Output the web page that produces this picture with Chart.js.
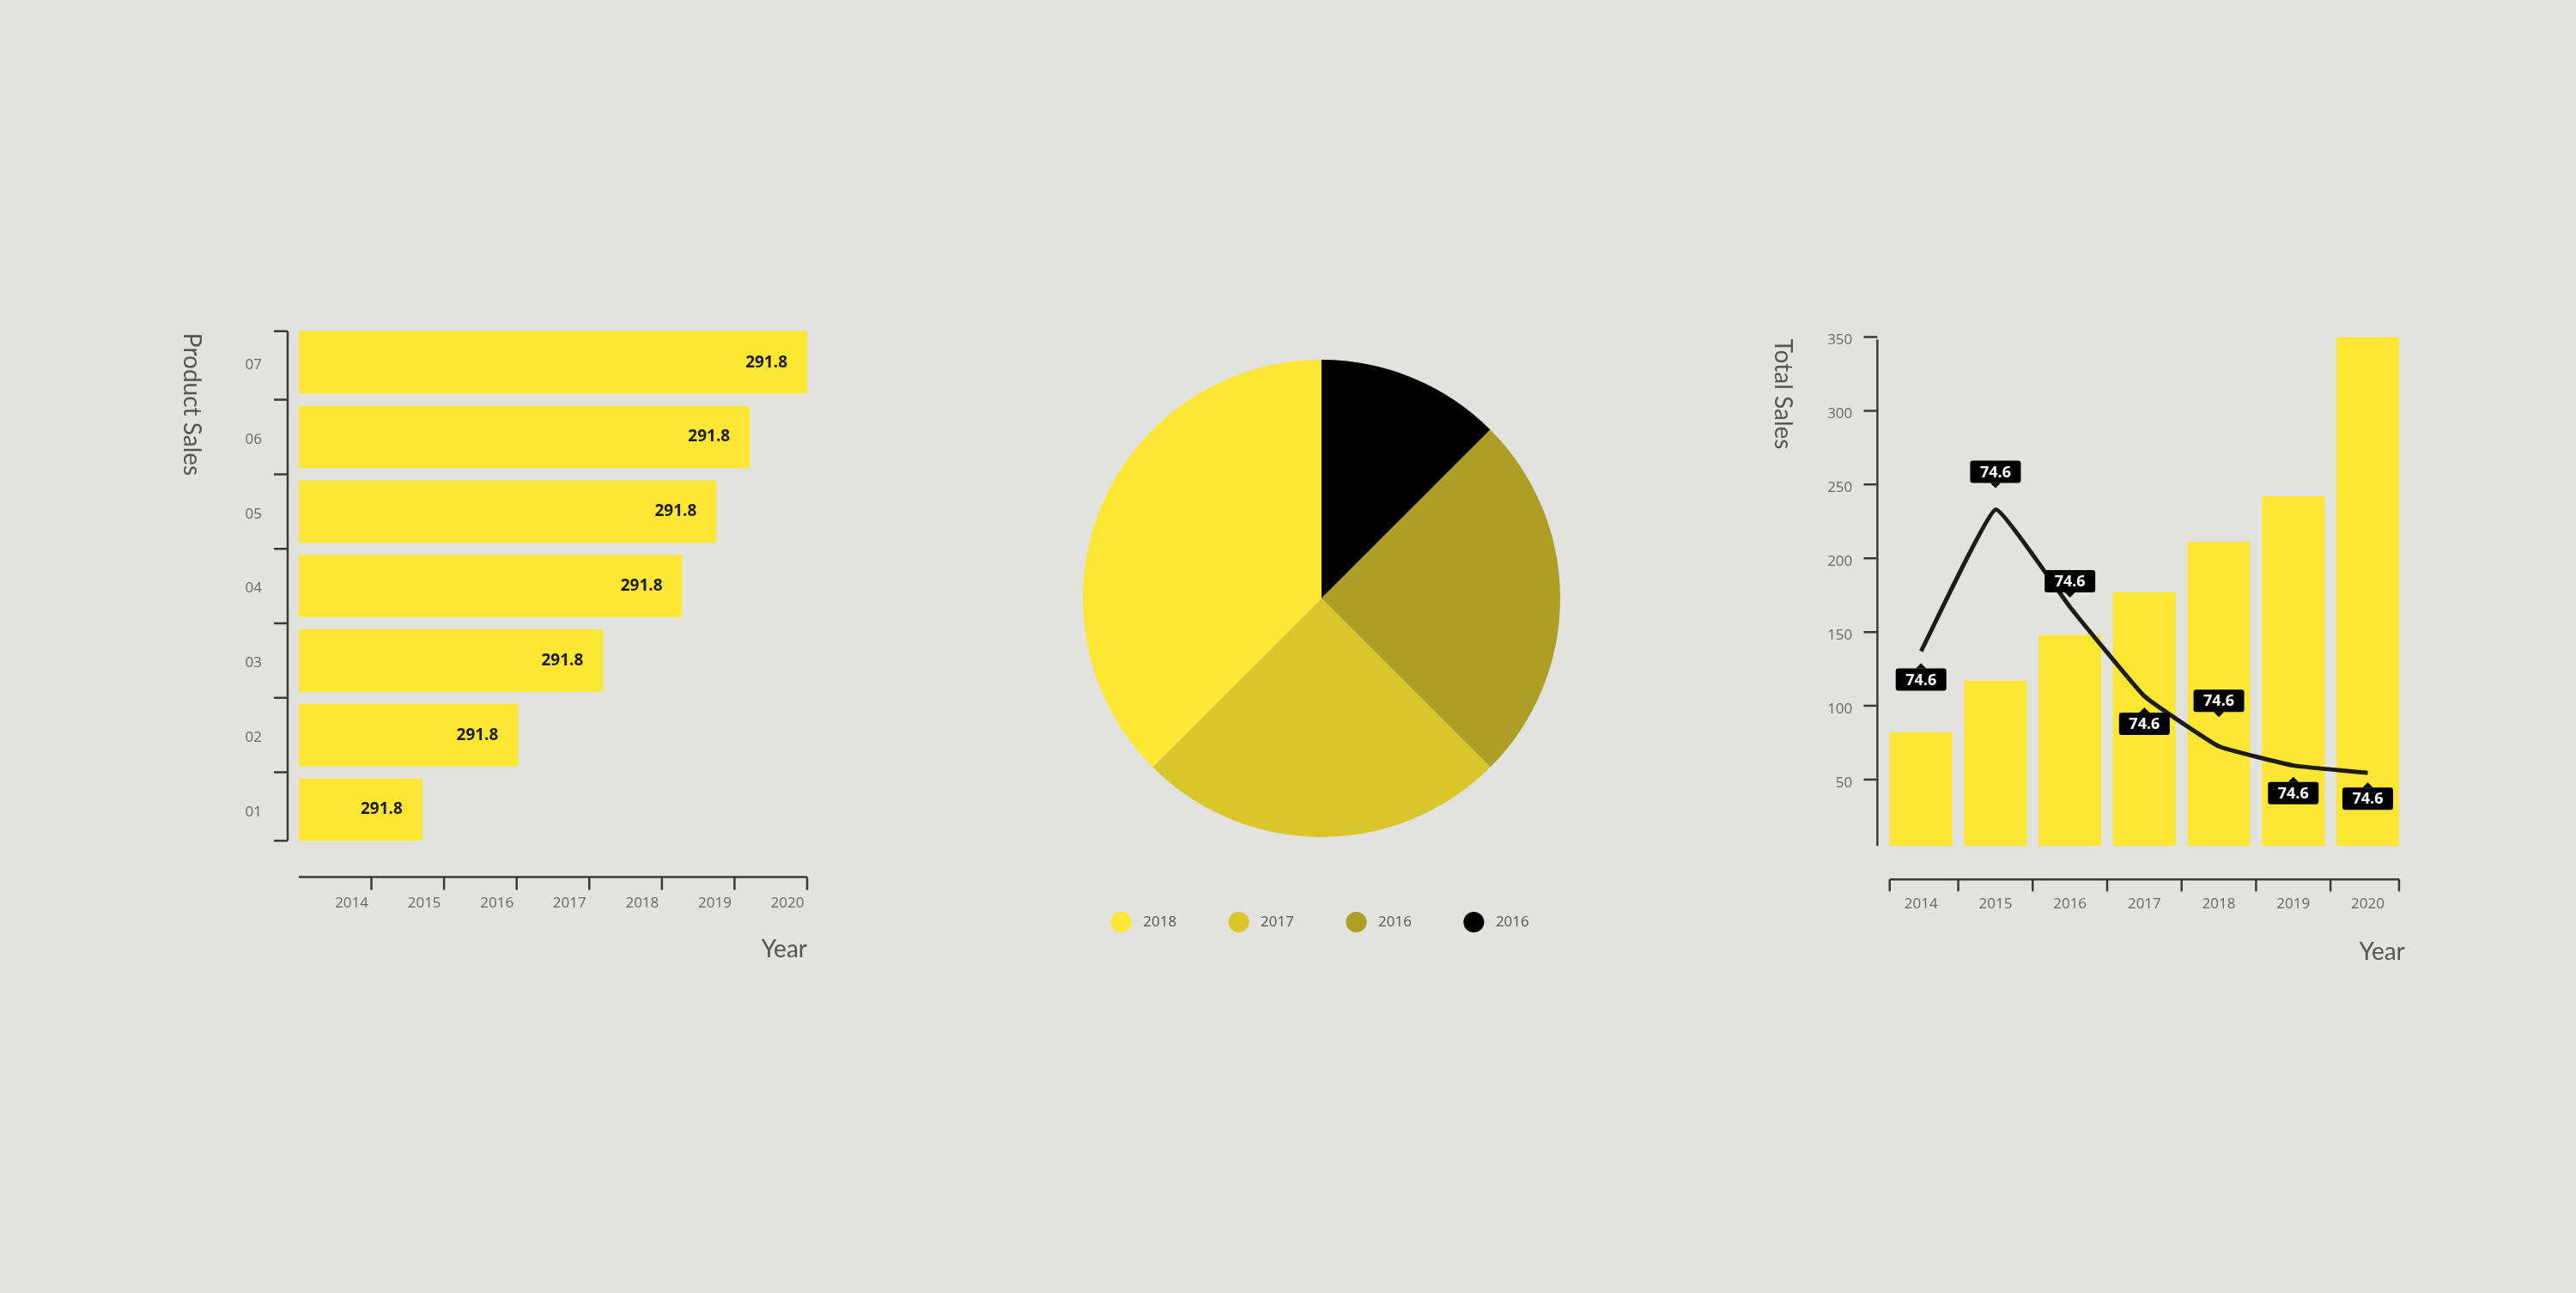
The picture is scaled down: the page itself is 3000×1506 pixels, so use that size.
<!DOCTYPE html>
<html>
<head>
<meta charset="utf-8">
<title>Sales overview</title>
<script src="https://cdn.jsdelivr.net/npm/chart.js@4.4.1/dist/chart.umd.min.js"></script>
<style>
html,body{margin:0;padding:0;background:#e2e2de;}
body{width:3000px;height:1506px;position:relative;overflow:hidden;}
canvas{position:absolute;left:0;top:0;}
</style>
</head>
<body>
<canvas id="product_chart" width="3000" height="1506"></canvas>
<canvas id="pie_chart" width="3000" height="1506"></canvas>
<canvas id="total_chart" width="3000" height="1506"></canvas>
<script>
//data
var years = ['2014','2015','2016','2017','2018','2019','2020']
var product_names = ['01','02','03','04','05','06','07']
var product_sales = [1.70, 3.02, 4.19, 5.28, 5.75, 6.21, 7.0]
var product_value_labels = ['291.8','291.8','291.8','291.8','291.8','291.8','291.8']

var pie_labels = ['2016','2016','2017','2018']
var pie_values = [12.5, 25, 25, 37.5]

var total_sales = [82, 117, 148, 177, 211, 242, 350]
var trend_values = [137, 233, 167, 106.5, 72.5, 59.5, 54.5]
var trend_labels = ['74.6','74.6','74.6','74.6','74.6','74.6','74.6']
var total_ticks = [50, 100, 150, 200, 250, 300, 350]

//style
var yellow = '#fde634'
var pie_colors = ['#000000','#ad9e25','#dac62b','#fde634']
var axis_color = '#3a3a3a'
var tick_color = '#666666'
var title_color = '#555555'
var tick_font = {family:'"Open Sans", sans-serif', size:17}
var title_font = {family:'Lato, "Open Sans", sans-serif', size:28, weight:'400'}
// where the black value tags sit, relative to the line point
var trend_label_shift = [33, -44, -30, 32, -53, 32, 30]

Chart.defaults.animation = false
Chart.defaults.font.family = '"Open Sans", sans-serif'

function sideTitle(ctx, text, x, y){
    // rotated title, reads top to bottom
    ctx.save()
    ctx.translate(x, y)
    ctx.rotate(Math.PI/2)
    ctx.textAlign = 'left'
    ctx.textBaseline = 'middle'
    ctx.fillStyle = title_color
    ctx.font = '400 28px Lato, "Open Sans", sans-serif'
    ctx.fillText(text, 0, 0)
    ctx.restore()
}

function fixSize(w, h){
    return function(scale){
        if(w != null) scale.width = w
        if(h != null) scale.height = h
    }
}

// detached axes + value labels of the product chart
var productDecor = {
    id:'productDecor',
    afterDraw:function(chart){
        var ctx = chart.ctx
        var area = chart.chartArea
        var xs = chart.scales.x
        var bars = chart.getDatasetMeta(0).data
        var ys_list = bars.map(function(b){return b.y})
        var half = bars[0].height/2
        var top = Math.min.apply(null, ys_list) - half
        var bottom = Math.max.apply(null, ys_list) + half

        ctx.save()
        ctx.strokeStyle = axis_color
        ctx.lineWidth = 2.5
        ctx.beginPath()
        //y axis
        var ax = area.left - 13
        ctx.moveTo(ax, top)
        ctx.lineTo(ax, bottom)
        var marks = [top, bottom]
        var sorted = ys_list.slice().sort(function(a,b){return a-b})
        for(let i=0;i<sorted.length-1;i++) marks.push((sorted[i]+sorted[i+1])/2)
        marks.forEach(function(y){
            ctx.moveTo(ax-16, y)
            ctx.lineTo(ax, y)
        })
        //x axis
        var ay = area.bottom + 35
        ctx.moveTo(xs.getPixelForValue(0), ay)
        ctx.lineTo(xs.getPixelForValue(7), ay)
        for(let v=1;v<=7;v++){
            let px = xs.getPixelForValue(v)
            ctx.moveTo(px, ay)
            ctx.lineTo(px, ay+15)
        }
        ctx.stroke()

        //value labels inside bars
        ctx.fillStyle = '#1d1d1b'
        ctx.font = '700 19px "Open Sans", sans-serif'
        ctx.textAlign = 'right'
        ctx.textBaseline = 'middle'
        bars.forEach(function(b, i){
            ctx.fillText(product_value_labels[i], b.x - 23, b.y)
        })
        ctx.restore()

        sideTitle(ctx, 'Product Sales', area.left - 125, top + 2)
    }
}

// detached axes + tags of the total chart
var totalDecor = {
    id:'totalDecor',
    afterDraw:function(chart){
        var ctx = chart.ctx
        var area = chart.chartArea
        var ys = chart.scales.y
        var bars = chart.getDatasetMeta(1).data
        var pts = chart.getDatasetMeta(0).data

        ctx.save()
        ctx.strokeStyle = axis_color
        ctx.lineWidth = 2.5
        ctx.beginPath()
        //y axis
        var ax = area.left - 7.5
        ctx.moveTo(ax, ys.getPixelForValue(350) + 3)
        ctx.lineTo(ax, area.bottom)
        total_ticks.forEach(function(v){
            let y = ys.getPixelForValue(v)
            ctx.moveTo(ax-16, y)
            ctx.lineTo(ax, y)
        })
        //x axis
        var ay = area.bottom + 39
        var first = bars[0], last = bars[bars.length-1]
        var left = first.x - first.width/2
        var right = last.x + last.width/2
        ctx.moveTo(left, ay)
        ctx.lineTo(right, ay)
        var marks = [left, right]
        for(let i=0;i<bars.length-1;i++) marks.push((bars[i].x + bars[i+1].x)/2)
        marks.forEach(function(x){
            ctx.moveTo(x, ay)
            ctx.lineTo(x, ay+14)
        })
        ctx.stroke()

        //black value tags on the line
        var w = 59, h = 26
        ctx.font = '700 18px "Open Sans", sans-serif'
        ctx.textAlign = 'center'
        ctx.textBaseline = 'middle'
        pts.forEach(function(p, i){
            let shift = trend_label_shift[i]
            let cy = p.y + shift
            ctx.fillStyle = '#000000'
            ctx.beginPath()
            if(ctx.roundRect) ctx.roundRect(p.x - w/2, cy - h/2, w, h, 3)
            else ctx.rect(p.x - w/2, cy - h/2, w, h)
            ctx.fill()
            // little pointer towards the point
            let edge = shift > 0 ? cy - h/2 : cy + h/2
            let dir = shift > 0 ? -1 : 1
            ctx.beginPath()
            ctx.moveTo(p.x - 6, edge)
            ctx.lineTo(p.x, edge + dir*6)
            ctx.lineTo(p.x + 6, edge)
            ctx.closePath()
            ctx.fill()
            ctx.fillStyle = '#ffffff'
            ctx.fillText(trend_labels[i], p.x, cy + 1)
        })
        ctx.restore()

        sideTitle(ctx, 'Total Sales', area.left - 118, ys.getPixelForValue(350) + 2)
    }
}

function drawProductChart(){
    var element = document.getElementById('product_chart')
    new Chart(element, {
        type:'bar',
        data:{
            labels:product_names,
            datasets:[{
                data:product_sales,
                backgroundColor:yellow,
                borderWidth:0,
                barPercentage:0.837,
                categoryPercentage:1
            }]
        },
        options:{
            responsive:false,
            indexAxis:'y',
            layout:{padding:{left:248, right:2060, top:378.8, bottom:369.6}},
            plugins:{legend:{display:false}, tooltip:{enabled:false}},
            scales:{
                y:{
                    reverse:true,
                    grid:{display:false, drawTicks:false},
                    border:{display:false},
                    ticks:{color:tick_color, font:tick_font, padding:43, labelOffset:3},
                    afterFit:fixSize(100, null)
                },
                x:{
                    min:0, max:7,
                    grid:{display:false, drawTicks:false},
                    border:{display:false},
                    ticks:{
                        stepSize:1,
                        color:tick_color,
                        font:tick_font,
                        padding:56,
                        labelOffset:-23,
                        maxRotation:0,
                        autoSkip:false,
                        callback:function(v){ return v >= 1 ? years[v-1] : '' }
                    },
                    title:{display:true, text:'Year', align:'end', color:title_color, font:title_font, padding:{top:0, bottom:14}},
                    afterFit:fixSize(null, 150)
                }
            }
        },
        plugins:[productDecor]
    })
}

function drawPieChart(){
    var element = document.getElementById('pie_chart')
    new Chart(element, {
        type:'pie',
        data:{
            labels:pie_labels,
            datasets:[{
                data:pie_values,
                backgroundColor:pie_colors,
                borderWidth:0,
                radius:278
            }]
        },
        options:{
            responsive:false,
            layout:{padding:{left:1139, right:1061, top:392.5, bottom:413.5}},
            plugins:{
                tooltip:{enabled:false},
                legend:{
                    position:'bottom',
                    reverse:true,
                    labels:{
                        usePointStyle:true,
                        pointStyle:'circle',
                        padding:64,
                        color:'#555555',
                        font:{family:'"Open Sans", sans-serif', size:17},
                        generateLabels:function(chart){
                            // a little more air between dot and text
                            var items = Chart.controllers.pie.overrides.plugins.legend.labels.generateLabels(chart)
                            items.forEach(function(item){ item.text = '\u2002' + item.text })
                            return items
                        }
                    }
                }
            }
        }
    })
}

function drawTotalChart(){
    var element = document.getElementById('total_chart')
    new Chart(element, {
        type:'bar',
        data:{
            labels:years,
            datasets:[{
                type:'line',
                data:trend_values,
                borderColor:'#1c1c1a',
                borderWidth:5,
                pointRadius:0,
                tension:0.1,
                fill:false,
                order:0
            },{
                type:'bar',
                data:total_sales,
                backgroundColor:yellow,
                borderWidth:0,
                barPercentage:0.842,
                categoryPercentage:1,
                order:1
            }]
        },
        options:{
            responsive:false,
            layout:{padding:{left:2073.9, right:199.2, top:392.5, bottom:370.7}},
            plugins:{legend:{display:false}, tooltip:{enabled:false}},
            scales:{
                y:{
                    min:5, max:350,
                    grid:{display:false, drawTicks:false},
                    border:{display:false},
                    afterBuildTicks:function(scale){
                        scale.ticks = total_ticks.map(function(v){return {value:v}})
                    },
                    ticks:{color:tick_color, font:tick_font, padding:36.6, labelOffset:4},
                    afterFit:fixSize(120, null)
                },
                x:{
                    grid:{display:false, drawTicks:false},
                    border:{display:false},
                    ticks:{color:tick_color, font:tick_font, padding:57.5, maxRotation:0, autoSkip:false},
                    title:{display:true, text:'Year', align:'end', color:title_color, font:title_font, padding:{top:0, bottom:10}},
                    afterFit:fixSize(null, 150)
                }
            }
        },
        plugins:[totalDecor]
    })
}

drawProductChart()
drawPieChart()
drawTotalChart()
</script>
</body>
</html>
